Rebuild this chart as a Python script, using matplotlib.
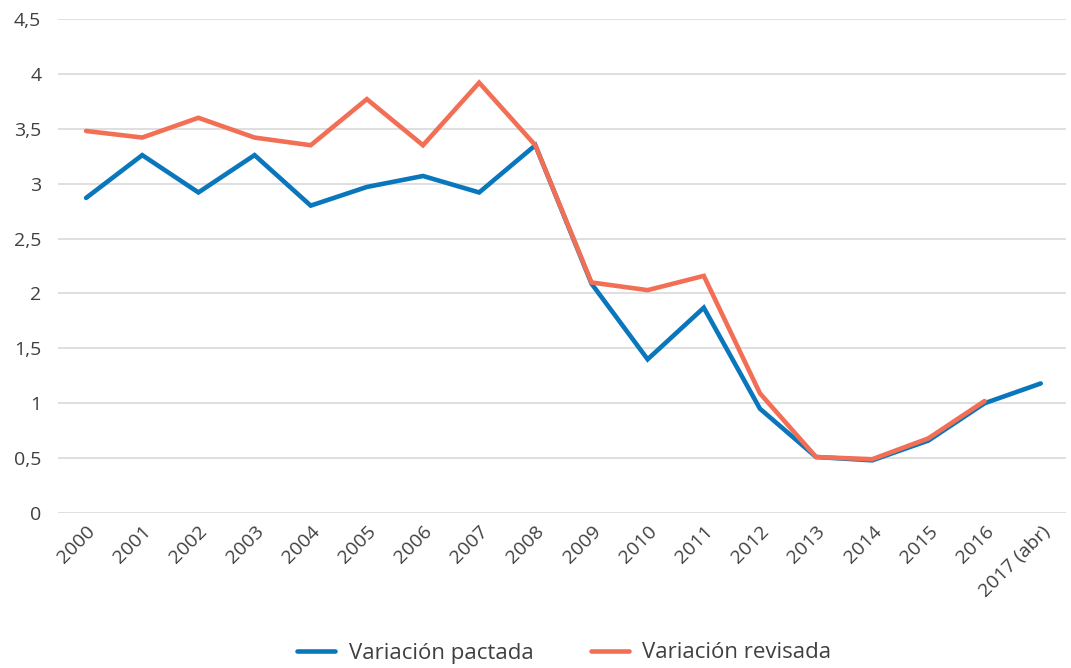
import matplotlib
matplotlib.use("Agg")
import matplotlib.pyplot as plt
from matplotlib.ticker import FuncFormatter

years = ["2000", "2001", "2002", "2003", "2004", "2005", "2006", "2007", "2008",
         "2009", "2010", "2011", "2012", "2013", "2014", "2015", "2016", "2017 (abr)"]
pactada = [2.87, 3.26, 2.92, 3.26, 2.80, 2.97, 3.07, 2.92, 3.35,
           2.09, 1.40, 1.87, 0.95, 0.51, 0.48, 0.66, 1.00, 1.18]
revisada = [3.48, 3.42, 3.60, 3.42, 3.35, 3.77, 3.35, 3.92, 3.35,
            2.10, 2.03, 2.16, 1.09, 0.51, 0.49, 0.68, 1.02]

BLUE = "#0A77BD"
ORANGE = "#F26F55"
TEXT = "#404040"
GRID = "#D9D9D9"

plt.rcParams["font.family"] = ["Open Sans", "DejaVu Sans"]

fig = plt.figure(figsize=(10.71, 6.68), dpi=100)
ax = fig.add_axes([58 / 1071, 1 - 513 / 668, 1008 / 1071, 494 / 668])

x = list(range(len(years)))
ax.plot(x, pactada, color=BLUE, lw=3.3, label="Variación pactada",
        solid_joinstyle="miter", solid_capstyle="round")
ax.plot(x[:len(revisada)], revisada, color=ORANGE, lw=3.3, label="Variación revisada",
        solid_joinstyle="miter", solid_capstyle="round")

ax.set_xlim(-0.5, 17.45)
ax.set_ylim(0, 4.5)
ax.set_yticks([i * 0.5 for i in range(10)])
ax.yaxis.set_major_formatter(FuncFormatter(
    lambda v, p: (f"{v:g}").replace(".", ",")))
ax.set_xticks(x)
ax.set_xticklabels(years, rotation=45, ha="right", rotation_mode="anchor")

ax.grid(axis="y", color=GRID, lw=1.2)
ax.set_axisbelow(True)
for s in ax.spines.values():
    s.set_visible(False)
ax.tick_params(axis="both", length=0, labelsize=14, colors=TEXT)
ax.tick_params(axis="y", pad=12)
ax.tick_params(axis="x", pad=7)

leg = fig.legend(loc="center", bbox_to_anchor=(0.527, 1 - 653 / 668), ncol=2,
                 frameon=False, fontsize=16, handlelength=1.7, columnspacing=2.6,
                 handletextpad=0.6)
for t in leg.get_texts():
    t.set_color(TEXT)

fig.savefig("out.png", dpi=100)
